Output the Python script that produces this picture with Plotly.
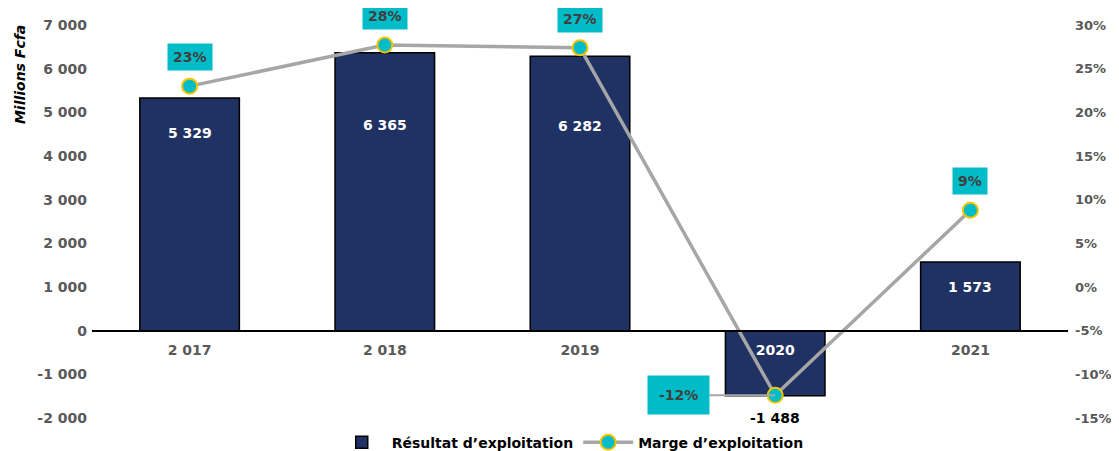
import plotly.graph_objects as go

categories = ["2 017", "2 018", "2019", "2020", "2021"]
resultat = [5329, 6365, 6282, -1488, 1573]
marge = [23.0, 27.7, 27.4, -12.4, 8.8]
y1_ticks = [-2000, -1000, 0, 1000, 2000, 3000, 4000, 5000, 6000, 7000]
y2_ticks = [-15, -10, -5, 0, 5, 10, 15, 20, 25, 30]

NAVY = "#1F3263"
TEAL = "#00BCC8"
GOLD = "#F5C400"
GREY_LINE = "#A6A6A6"
TICK_GREY = "#595959"
FONT = "DejaVu Sans"


def fmt_num(v):
    s = f"{abs(v):,}".replace(",", " ")
    return "-" + s if v < 0 else s


fig = go.Figure()
fig.add_trace(go.Bar(
    x=categories, y=resultat, name="Résultat d’exploitation",
    marker=dict(color=NAVY, line=dict(color="#000000", width=1.5)),
    width=0.51, yaxis="y", hoverinfo="skip",
))
fig.add_trace(go.Scatter(
    x=categories, y=marge, name="Marge d’exploitation", yaxis="y2",
    mode="lines+markers",
    line=dict(color=GREY_LINE, width=3.5),
    marker=dict(size=15, color=TEAL, line=dict(color=GOLD, width=2)),
    hoverinfo="skip",
))

annotations = []
# bar value labels (pixel offsets from bar top / bottom)
bar_shift = [-35, -72, -70, -22, -25]
for i, v in enumerate(resultat):
    annotations.append(dict(x=i, y=v, xref="x", yref="y", text=f"<b>{fmt_num(v)}</b>",
                            showarrow=False, yshift=bar_shift[i],
                            font=dict(family=FONT, size=14,
                                      color="#000000" if v < 0 else "#FFFFFF")))

# percentage labels
for i, m in enumerate(marge):
    txt = f"<b>{round(m)}%</b>"
    if m < 0:
        annotations.append(dict(x=i, y=m, xref="x", yref="y2", text=txt,
                                showarrow=True, arrowhead=0, arrowwidth=2,
                                arrowcolor=GREY_LINE, ax=-97, ay=0,
                                bgcolor=TEAL, borderpad=11,
                                font=dict(family=FONT, size=14, color="#404040")))
    else:
        annotations.append(dict(x=i, y=m, xref="x", yref="y2", text=txt,
                                showarrow=False, yshift=29,
                                bgcolor=TEAL, borderpad=5,
                                font=dict(family=FONT, size=14, color="#404040")))

annotations.append(dict(x=-0.0738, y=0.875, xref="paper", yref="paper",
                        xanchor="center", yanchor="middle",
                        text="<b><i>Millions Fcfa</i></b>", textangle=-90,
                        showarrow=False,
                        font=dict(family=FONT, size=14, color="#000000")))

ticktext = [f'<span style="color:white">{c}</span>' if v < 0 else c
            for c, v in zip(categories, resultat)]

fig.update_layout(
    width=1111, height=443,
    margin=dict(l=84, r=51, t=17, b=33, autoexpand=False),
    paper_bgcolor="white", plot_bgcolor="white",
    font=dict(family=FONT, size=15, color=TICK_GREY),
    xaxis=dict(
        type="category", range=[-0.5, 4.5],
        anchor="free", position=2 / 9,
        showline=True, linecolor="#000000", linewidth=1.5,
        showgrid=False, ticks="", ticklabelstandoff=7,
        tickmode="array", tickvals=categories, ticktext=ticktext,
        tickfont=dict(family=FONT, size=14, color=TICK_GREY, weight="bold"),
    ),
    yaxis=dict(
        range=[-2000, 7000], tickmode="array", tickvals=y1_ticks,
        ticktext=[fmt_num(v) for v in y1_ticks],
        showgrid=False, zeroline=False, showline=False,
        ticklabelstandoff=4, automargin=False,
        tickfont=dict(family=FONT, size=14, color=TICK_GREY, weight="bold"),
    ),
    yaxis2=dict(
        range=[-15, 30], tickmode="array", tickvals=y2_ticks,
        ticktext=[f"{v}%" for v in y2_ticks],
        overlaying="y", side="right",
        showgrid=False, zeroline=False, showline=False,
        ticklabelstandoff=6, automargin=False,
        tickfont=dict(family=FONT, size=13, color=TICK_GREY, weight="bold"),
    ),
    legend=dict(
        orientation="h", x=0.49, xanchor="center", y=-0.022, yanchor="top",
        font=dict(family=FONT, size=14, color="#000000", weight="bold"),
        bgcolor="rgba(0,0,0,0)", itemwidth=50,
    ),
    annotations=annotations,
    showlegend=True,
)

fig.write_html("out.html")
